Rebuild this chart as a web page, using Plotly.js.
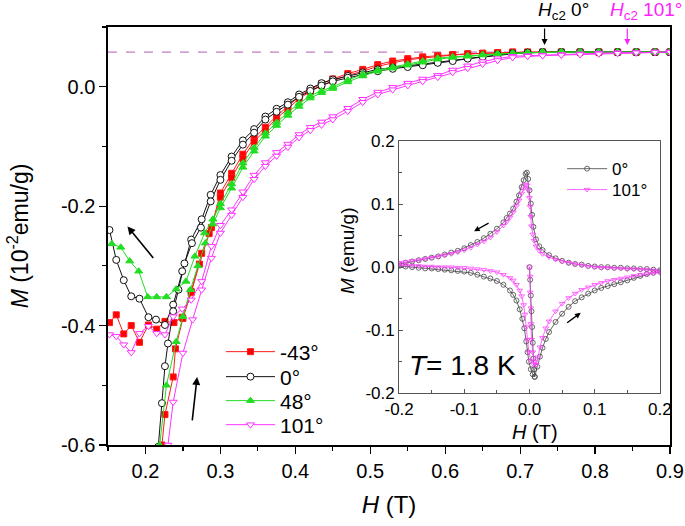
<!DOCTYPE html>
<html><head><meta charset="utf-8">
<script src="https://cdn.plot.ly/plotly-3.0.1.min.js"></script>
<style>html,body{margin:0;padding:0;background:#fff;}#chart{width:685px;height:526px;}</style>
</head><body><div id="chart"></div>
<script>
// ---------- main panel data: H (T), M (10^-2 emu/g) ----------
const highH = [0.30,0.315,0.33,0.345,0.36,0.375,0.39,0.405,0.42,0.435,0.45,0.47,0.49,0.51,0.53,0.55,0.57,0.59,0.61,0.63,0.65,0.67,0.69,0.71,0.73,0.755,0.78,0.805,0.83,0.855,0.88,0.90];

// -43 deg
const mN43_downLowH = [0.152,0.161,0.171,0.181,0.192,0.204,0.215,0.226,0.238,0.249,0.261,0.275,0.288];
const mN43_downLowM = [-0.395,-0.382,-0.414,-0.400,-0.428,-0.399,-0.406,-0.393,-0.395,-0.386,-0.343,-0.279,-0.236];
const mN43_downHighM = [-0.178,-0.145,-0.113,-0.086,-0.068,-0.049,-0.033,-0.016,-0.005,0.005,0.013,0.022,0.029,0.037,0.043,0.047,0.050,0.052,0.054,0.055,0.056,0.057,0.058,0.058,0.058,0.058,0.058,0.058,0.058,0.058,0.058,0.058];
const mN43_upLowH = [0.219,0.222,0.226,0.237,0.240,0.250,0.261,0.272,0.285];
const mN43_upLowM = [-0.66,-0.60,-0.549,-0.486,-0.439,-0.388,-0.345,-0.297,-0.246];
const mN43_upHighM = [-0.185,-0.152,-0.120,-0.092,-0.073,-0.053,-0.037,-0.020,-0.008,0.002,0.010,0.019,0.026,0.034,0.040,0.045,0.048,0.051,0.053,0.055,0.056,0.057,0.058,0.058,0.058,0.058,0.058,0.058,0.058,0.058,0.058,0.058];

// 0 deg
const m0_downLowH = [0.152,0.161,0.171,0.181,0.192,0.204,0.214,0.226,0.237,0.249,0.261,0.275,0.287];
const m0_downLowM = [-0.240,-0.290,-0.324,-0.351,-0.355,-0.386,-0.390,-0.399,-0.365,-0.309,-0.256,-0.222,-0.181];
const m0_downHighM = [-0.148,-0.117,-0.090,-0.071,-0.050,-0.037,-0.026,-0.013,-0.003,0.006,0.012,0.018,0.024,0.029,0.032,0.035,0.038,0.041,0.045,0.048,0.051,0.054,0.056,0.057,0.058,0.058,0.058,0.058,0.058,0.058,0.058,0.058];
const m0_upLowH = [0.212,0.217,0.222,0.226,0.230,0.237,0.244,0.252,0.262,0.274,0.287];
const m0_upLowM = [-0.68,-0.603,-0.53,-0.468,-0.43,-0.376,-0.340,-0.296,-0.262,-0.236,-0.192];
const m0_upHighM = [-0.156,-0.124,-0.097,-0.077,-0.055,-0.042,-0.030,-0.017,-0.007,0.002,0.009,0.015,0.021,0.026,0.030,0.033,0.036,0.040,0.043,0.047,0.050,0.053,0.055,0.057,0.058,0.058,0.058,0.058,0.058,0.058,0.058,0.058];

// 48 deg
const m48_downLowH = [0.155,0.167,0.179,0.191,0.203,0.215,0.228,0.241,0.254,0.266,0.279,0.29];
const m48_downLowM = [-0.263,-0.269,-0.292,-0.309,-0.352,-0.352,-0.352,-0.339,-0.326,-0.284,-0.245,-0.222];
const m48_downHighM = [-0.196,-0.163,-0.128,-0.102,-0.078,-0.060,-0.043,-0.028,-0.015,-0.007,0.000,0.011,0.021,0.028,0.033,0.038,0.043,0.048,0.050,0.052,0.054,0.055,0.056,0.057,0.058,0.058,0.058,0.058,0.058,0.058,0.058,0.058];
const m48_upLowH = [0.216,0.219,0.228,0.241,0.250,0.260,0.270,0.280,0.290];
const m48_upLowM = [-0.68,-0.60,-0.50,-0.427,-0.385,-0.340,-0.300,-0.262,-0.230];
const m48_upHighM = [-0.203,-0.170,-0.135,-0.108,-0.083,-0.065,-0.048,-0.033,-0.019,-0.010,-0.003,0.008,0.018,0.026,0.031,0.036,0.041,0.046,0.049,0.051,0.053,0.055,0.056,0.057,0.058,0.058,0.058,0.058,0.058,0.058,0.058,0.058];

// 101 deg
const m101_downLowH = [0.152,0.161,0.171,0.181,0.192,0.204,0.215,0.226,0.237,0.249,0.261,0.275,0.288];
const m101_downLowM = [-0.415,-0.418,-0.432,-0.445,-0.413,-0.401,-0.413,-0.415,-0.385,-0.372,-0.357,-0.326,-0.267];
const m101_downHighM = [-0.232,-0.206,-0.176,-0.148,-0.127,-0.110,-0.096,-0.080,-0.068,-0.059,-0.050,-0.036,-0.021,-0.009,-0.001,0.006,0.013,0.019,0.028,0.035,0.042,0.047,0.051,0.052,0.053,0.054,0.055,0.056,0.057,0.057,0.058,0.058];
const m101_upLowH = [0.226,0.230,0.237,0.250,0.263,0.275,0.288];
const m101_upLowM = [-0.68,-0.60,-0.528,-0.446,-0.390,-0.340,-0.287];
const m101_upHighM = [-0.245,-0.215,-0.185,-0.155,-0.133,-0.116,-0.101,-0.085,-0.073,-0.064,-0.055,-0.041,-0.026,-0.013,-0.005,0.002,0.009,0.016,0.024,0.031,0.038,0.044,0.049,0.051,0.052,0.053,0.054,0.055,0.056,0.057,0.058,0.058];

const hc2Level = 0.058;
const seriesNames = ['-43°','0°','48°','101°'];

// ---------- inset data: H (T), M (emu/g), T = 1.8 K ----------
// 0 deg
const i0_virginH = [0.000,0.001,0.002,0.003,0.004,0.005,0.006,0.007];
const i0_virginM = [0.000,-0.020,-0.045,-0.070,-0.095,-0.120,-0.145,-0.162];
const i0_lrH = [0.008,0.012,0.016,0.020,0.025,0.030,0.040,0.050,0.060,0.070,0.080,0.090,0.100,0.110,0.120,0.130,0.140,0.150,0.160,0.170,0.180,0.190,0.200];
const i0_lrM = [-0.174,-0.158,-0.142,-0.128,-0.114,-0.103,-0.087,-0.074,-0.063,-0.054,-0.048,-0.042,-0.037,-0.033,-0.030,-0.027,-0.024,-0.021,-0.017,-0.014,-0.011,-0.009,-0.007];
const i0_urH = [0.200,0.190,0.180,0.170,0.160,0.150,0.140,0.130,0.120,0.110,0.100,0.090,0.080,0.070,0.060,0.050,0.040,0.030,0.020,0.015,0.010,0.006,0.004,0.002,0.000,-0.002,-0.004];
const i0_urM = [-0.005,-0.004,-0.003,-0.003,-0.002,-0.002,-0.001,-0.001,0.000,0.000,0.001,0.002,0.004,0.005,0.007,0.010,0.014,0.019,0.027,0.033,0.044,0.064,0.083,0.101,0.122,0.140,0.150];
const i0_ulH = [-0.006,-0.009,-0.012,-0.016,-0.020,-0.025,-0.030,-0.035,-0.040,-0.050,-0.060,-0.070,-0.080,-0.090,-0.100,-0.110,-0.120,-0.130,-0.140,-0.150,-0.160,-0.170,-0.180,-0.190,-0.200];
const i0_ulM = [0.148,0.138,0.127,0.114,0.104,0.093,0.085,0.078,0.071,0.061,0.053,0.046,0.040,0.035,0.030,0.026,0.023,0.020,0.017,0.015,0.013,0.011,0.009,0.007,0.005];
const i0_llH = [-0.200,-0.190,-0.180,-0.170,-0.160,-0.150,-0.140,-0.130,-0.120,-0.110,-0.100,-0.090,-0.080,-0.070,-0.060,-0.050,-0.040,-0.030,-0.025,-0.020,-0.015,-0.011,-0.008,-0.005,-0.003,-0.001,0.002,0.005,0.008];
const i0_llM = [0.002,0.001,0.000,-0.001,-0.002,-0.002,-0.003,-0.004,-0.005,-0.006,-0.007,-0.009,-0.012,-0.015,-0.018,-0.022,-0.028,-0.037,-0.044,-0.053,-0.067,-0.082,-0.097,-0.118,-0.135,-0.150,-0.162,-0.170,-0.174];
// 101 deg
const i101_virginH = [0.000,0.001,0.001,0.002,0.002,0.003,0.005,0.008];
const i101_virginM = [0.000,-0.015,-0.040,-0.065,-0.090,-0.115,-0.135,-0.150];
const i101_lrH = [0.010,0.013,0.016,0.020,0.025,0.030,0.040,0.050,0.060,0.070,0.080,0.090,0.100,0.110,0.120,0.130,0.140,0.150,0.160,0.170,0.180,0.190,0.200];
const i101_lrM = [-0.155,-0.143,-0.127,-0.112,-0.097,-0.086,-0.070,-0.058,-0.049,-0.042,-0.036,-0.032,-0.028,-0.025,-0.022,-0.020,-0.018,-0.016,-0.014,-0.012,-0.011,-0.010,-0.009];
const i101_urH = [0.200,0.190,0.180,0.170,0.160,0.150,0.140,0.130,0.120,0.110,0.100,0.090,0.080,0.070,0.060,0.050,0.040,0.030,0.020,0.015,0.010,0.007,0.005,0.003,0.002,0.001,0.000,-0.002,-0.004];
const i101_urM = [-0.006,-0.005,-0.004,-0.004,-0.003,-0.003,-0.002,-0.002,-0.001,-0.001,0.000,0.001,0.003,0.005,0.007,0.009,0.012,0.016,0.021,0.026,0.033,0.042,0.052,0.065,0.080,0.096,0.110,0.122,0.130];
const i101_ulH = [-0.006,-0.009,-0.012,-0.016,-0.020,-0.025,-0.030,-0.035,-0.040,-0.050,-0.060,-0.070,-0.080,-0.090,-0.100,-0.110,-0.120,-0.130,-0.140,-0.150,-0.160,-0.170,-0.180,-0.190,-0.200];
const i101_ulM = [0.131,0.125,0.117,0.106,0.097,0.087,0.079,0.072,0.066,0.056,0.047,0.041,0.036,0.031,0.027,0.024,0.021,0.019,0.017,0.015,0.013,0.011,0.010,0.008,0.007];
const i101_llH = [-0.200,-0.190,-0.180,-0.170,-0.160,-0.150,-0.140,-0.130,-0.120,-0.110,-0.100,-0.090,-0.080,-0.070,-0.060,-0.050,-0.040,-0.030,-0.025,-0.020,-0.015,-0.012,-0.009,-0.007,-0.005,-0.003,-0.001,0.002,0.006,0.010];
const i101_llM = [0.003,0.003,0.002,0.002,0.001,0.001,0.000,0.000,0.000,-0.001,-0.001,-0.002,-0.003,-0.004,-0.006,-0.008,-0.012,-0.017,-0.021,-0.028,-0.037,-0.046,-0.060,-0.075,-0.095,-0.115,-0.135,-0.148,-0.154,-0.155];

const mainXTicks = [0.2,0.3,0.4,0.5,0.6,0.7,0.8,0.9];
const mainXTickText = ['0.2','0.3','0.4','0.5','0.6','0.7','0.8','0.9'];
const mainYTicks = [-0.6,-0.4,-0.2,0.0];
const mainYTickText = ['-0.6','-0.4','-0.2','0.0'];
const insetTicks = [-0.2,-0.1,0.0,0.1,0.2];
const insetTickText = ['-0.2','-0.1','0.0','0.1','0.2'];

// ---------- build ----------
const FONT = 'Arial, "Liberation Sans", sans-serif';
function mainTrace(name, legendId, dLH, dLM, dHM, uLH, uLM, uHM, color, symbol, fill, size) {
  return {
    type: 'scatter', mode: 'lines+markers', name: name, legend: legendId,
    x: dLH.concat(highH, [null], uLH, highH),
    y: dLM.concat(dHM, [null], uLM, uHM),
    line: {color: color, width: 1},
    marker: {symbol: symbol, size: size, color: fill, line: {color: color, width: 1}},
    connectgaps: false, xaxis: 'x', yaxis: 'y', cliponaxis: true
  };
}
function insetTrace(name, legendId, parts, color, symbol) {
  let xs = [], ys = [];
  parts.forEach(p => { xs = xs.concat(p[0]); ys = ys.concat(p[1]); });
  return {
    type: 'scatter', mode: 'lines+markers', name: name, legend: legendId,
    x: xs, y: ys, xaxis: 'x2', yaxis: 'y2',
    line: {color: color, width: 0.8},
    marker: {symbol: symbol, size: 5, color: 'rgba(255,255,255,0)', line: {color: color, width: 0.8}}
  };
}

const traces = [
  mainTrace(seriesNames[0], 'legend', mN43_downLowH, mN43_downLowM, mN43_downHighM, mN43_upLowH, mN43_upLowM, mN43_upHighM, '#ff1a1a', 'square', '#ff0000', 6),
  mainTrace(seriesNames[1], 'legend3', m0_downLowH, m0_downLowM, m0_downHighM, m0_upLowH, m0_upLowM, m0_upHighM, '#111111', 'circle', '#ffffff', 7),
  mainTrace(seriesNames[2], 'legend4', m48_downLowH, m48_downLowM, m48_downHighM, m48_upLowH, m48_upLowM, m48_upHighM, '#22dd22', 'triangle-up', '#22dd22', 7),
  mainTrace(seriesNames[3], 'legend5', m101_downLowH, m101_downLowM, m101_downHighM, m101_upLowH, m101_upLowM, m101_upHighM, '#ff33ff', 'triangle-down', '#ffffff', 7),
  insetTrace('0°', 'legend2', [[i0_virginH,i0_virginM],[i0_lrH,i0_lrM],[i0_urH,i0_urM],[i0_ulH,i0_ulM],[i0_llH,i0_llM]], '#444444', 'circle'),
  insetTrace('101°', 'legend6', [[i101_virginH,i101_virginM],[i101_lrH,i101_lrM],[i101_urH,i101_urM],[i101_ulH,i101_ulM],[i101_llH,i101_llM]], '#ff44ff', 'triangle-down')
];

function leg(x, y, size, w) {
  return {x: x, y: y, xanchor: 'left', yanchor: 'middle', bgcolor: 'rgba(0,0,0,0)', borderwidth: 0,
          font: {size: size, family: FONT}, itemwidth: w};
}

const layout = {
  width: 685, height: 526,
  margin: {l: 108, r: 15, t: 27, b: 81, pad: 0},
  paper_bgcolor: '#ffffff', plot_bgcolor: 'rgba(0,0,0,0)',
  font: {family: FONT, color: '#000'},
  showlegend: true,
  xaxis: {
    domain: [0, 1], range: [0.15, 0.9], anchor: 'y',
    tickmode: 'array', tickvals: mainXTicks, ticktext: mainXTickText,
    ticks: 'outside', ticklen: 7, tickwidth: 1.2, tickcolor: '#000',
    minor: {tickmode: 'linear', tick0: 0.15, dtick: 0.1, ticks: 'outside', ticklen: 4, tickwidth: 1.2, tickcolor: '#000'},
    showline: true, linecolor: '#000', linewidth: 1.6, mirror: true,
    showgrid: false, zeroline: false,
    tickfont: {size: 20, family: FONT},
    title: {text: '<i>H</i> (T)', font: {size: 24, family: FONT}, standoff: 15},
    automargin: false
  },
  yaxis: {
    domain: [0, 1], range: [-0.6, 0.1], anchor: 'x',
    tickmode: 'array', tickvals: mainYTicks, ticktext: mainYTickText,
    ticks: 'outside', ticklen: 7, tickwidth: 1.2, tickcolor: '#000',
    minor: {tickmode: 'linear', tick0: -0.5, dtick: 0.2, ticks: 'outside', ticklen: 4, tickwidth: 1.2, tickcolor: '#000'},
    showline: true, linecolor: '#000', linewidth: 1.6, mirror: true,
    showgrid: false, zeroline: false,
    tickfont: {size: 20, family: FONT},
    title: {text: '<i>M</i> (10<sup>-2</sup>emu/g)', font: {size: 23, family: FONT}, standoff: 26},
    automargin: false
  },
  xaxis2: {
    domain: [0.518, 0.982], range: [-0.2, 0.2], anchor: 'y2',
    tickmode: 'array', tickvals: insetTicks, ticktext: insetTickText,
    ticks: 'inside', ticklen: 4, tickwidth: 1, tickcolor: '#555',
    minor: {tickmode: 'linear', tick0: -0.15, dtick: 0.1, ticks: 'inside', ticklen: 3, tickcolor: '#555'},
    showline: true, linecolor: '#555', linewidth: 1, mirror: true,
    showgrid: false, zeroline: false,
    tickfont: {size: 17, family: FONT},
    automargin: false
  },
  yaxis2: {
    domain: [0.124, 0.727], range: [-0.2, 0.2], anchor: 'x2',
    tickmode: 'array', tickvals: insetTicks, ticktext: insetTickText,
    ticks: 'inside', ticklen: 4, tickwidth: 1, tickcolor: '#555',
    minor: {tickmode: 'linear', tick0: -0.15, dtick: 0.1, ticks: 'inside', ticklen: 3, tickcolor: '#555'},
    showline: true, linecolor: '#555', linewidth: 1, mirror: true,
    showgrid: false, zeroline: false,
    tickfont: {size: 17, family: FONT},
    automargin: false
  },
  legend:  leg(0.201, 0.2225, 21, 49),
  legend3: leg(0.201, 0.1627, 21, 49),
  legend4: leg(0.201, 0.1053, 21, 49),
  legend5: leg(0.201, 0.0478, 21, 49),
  legend2: leg(0.808, 0.660, 17, 40),
  legend6: leg(0.808, 0.610, 17, 40),
  shapes: [{
    type: 'line', xref: 'paper', x0: 0, x1: 1, yref: 'y', y0: hc2Level, y1: hc2Level,
    line: {color: '#b060b0', width: 1, dash: 'dash'}, layer: 'below'
  }],
  annotations: [
    {xref: 'paper', yref: 'paper', x: 0.810, y: 1.038, xanchor: 'center', yanchor: 'middle', text: '<i>H</i><sub>c2</sub> 0°', showarrow: false, font: {size: 19, color: '#000'}},
    {xref: 'paper', yref: 'paper', x: 0.957, y: 1.038, xanchor: 'center', yanchor: 'middle', text: '<i>H</i><sub>c2</sub> 101°', showarrow: false, font: {size: 19, color: '#ff22ff'}},
    {xref: 'paper', yref: 'paper', x: 0.425, y: 0.466, xanchor: 'center', yanchor: 'middle', textangle: -90, text: '<i>M</i> (emu/g)', showarrow: false, font: {size: 19, color: '#000'}},
    {xref: 'paper', yref: 'paper', x: 0.760, y: 0.031, xanchor: 'center', yanchor: 'middle', borderpad: 0, text: '<i>H</i> (T)', showarrow: false, font: {size: 20, color: '#000'}},
    {xref: 'x', yref: 'y', x: 0.7326, y: 0.070, ax: 0, ay: -18, text: '', showarrow: true, arrowhead: 2, arrowsize: 1, arrowwidth: 1.2, arrowcolor: '#000'},
    {xref: 'x', yref: 'y', x: 0.843, y: 0.070, ax: 0, ay: -18, text: '', showarrow: true, arrowhead: 2, arrowsize: 1, arrowwidth: 1.2, arrowcolor: '#ff22ff'},
    {xref: 'x', yref: 'y', x: 0.176, y: -0.234, ax: 27, ay: 33, text: '', showarrow: true, arrowhead: 2, arrowsize: 1, arrowwidth: 1.6, arrowcolor: '#000'},
    {xref: 'x', yref: 'y', x: 0.2689, y: -0.486, ax: -5, ay: 45, text: '', showarrow: true, arrowhead: 2, arrowsize: 1, arrowwidth: 1.6, arrowcolor: '#000'},
    {xref: 'x2', yref: 'y2', x: -0.085, y: 0.057, ax: 16, ay: -9, text: '', showarrow: true, arrowhead: 2, arrowsize: 0.8, arrowwidth: 1.4, arrowcolor: '#000'},
    {xref: 'x2', yref: 'y2', x: 0.0785, y: -0.0725, ax: -15, ay: 11, text: '', showarrow: true, arrowhead: 2, arrowsize: 0.8, arrowwidth: 1.4, arrowcolor: '#000'},
    {xref: 'paper', yref: 'paper', x: 0.630, y: 0.189, xanchor: 'center', yanchor: 'middle', text: '<i>T</i>= 1.8 K', showarrow: false, font: {size: 28, color: '#000'}}
  ]
};

Plotly.newPlot('chart', traces, layout, {displayModeBar: false, staticPlot: true});
</script></body></html>
